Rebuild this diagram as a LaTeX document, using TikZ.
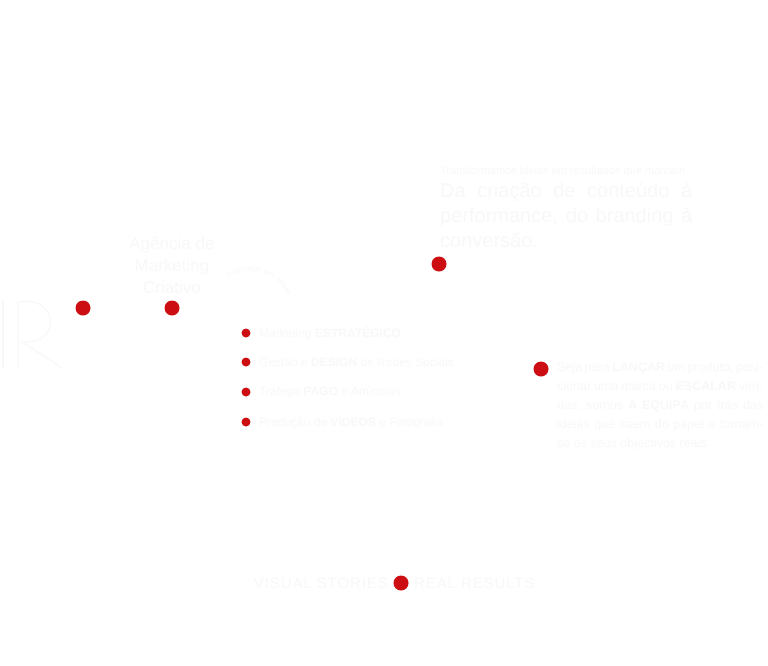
\documentclass[tikz,border=0pt]{standalone}
\usepackage{fontspec}
\setmainfont{Liberation Sans}
\usetikzlibrary{decorations.text}
\definecolor{dotred}{RGB}{204,14,18}
\definecolor{ghost}{RGB}{248,248,248}
\begin{document}
\begin{tikzpicture}[x=1pt,y=-1pt,
  bigdot/.style={circle,fill=dotred,inner sep=0pt,minimum size=15pt},
  smalldot/.style={circle,fill=dotred,inner sep=0pt,minimum size=9pt},
  ghosttext/.style={text=ghost,inner sep=0pt},
  bullettext/.style={ghosttext,anchor=west,font=\fontsize{12}{14}\selectfont}]
\useasboundingbox[fill=white] (0,0) rectangle (768,665);

% logo (faint)
\draw[ghost,line width=1.2pt] (3,300) -- (3,368);
\draw[ghost,line width=1.2pt] (18,368) -- (18,302) .. controls (60,295) and (62,345) .. (22,342) -- (62,368);

% red dots
\node[bigdot] (d1) at (83,308) {};
\node[bigdot] (d2) at (172,308) {};
\node[bigdot] (d3) at (439,264) {};
\node[bigdot] (d4) at (541,369) {};
\node[bigdot] (d5) at (401,583) {};

% title left
\node[ghosttext,align=center,font=\fontsize{17}{22}\selectfont] (title) at (172,265) {Agência de\\Marketing\\Criativo};

% arc text
\begin{scope}[y=1pt]
\path[decorate,decoration={text along path,text color=ghost,
  text={|\fontsize{7}{8}\selectfont|criatividade sem limites}}]
  (250,-312) ++(124:41) arc[start angle=124,end angle=2,radius=41];
\end{scope}

% bullets
\node[smalldot] (b1) at (246,333) {};
\node[smalldot] (b2) at (246,362) {};
\node[smalldot] (b3) at (246,392) {};
\node[smalldot] (b4) at (246,422) {};
\node[bullettext] (t1) at (259,333) {Marketing \textbf{ESTRATÉGICO}};
\node[bullettext] (t2) at (259,362) {Gestão e \textbf{DESIGN} de Redes Sociais};
\node[bullettext] (t3) at (259,392) {Tráfego \textbf{PAGO} e Anúncios};
\node[bullettext] (t4) at (259,422) {Produção de \textbf{VÍDEOS} e Fotografia};

% heading right
\node[ghosttext,anchor=west,font=\fontsize{11}{13}\selectfont] (kick) at (440,172) {Transformamos ideias em resultados que marcam};
\node[ghosttext,anchor=north west,text width=252pt,align=justify,
  font=\fontsize{20}{25}\selectfont] (head) at (440,183)
  {Da criação de conteúdo à\linebreak performance, do branding à\linebreak conversão.};

% paragraph right
\node[ghosttext,anchor=north west,text width=206pt,align=justify,
  font=\fontsize{12.5}{19}\selectfont] (para) at (557,362)
  {Seja para \textbf{LANÇAR} um produto, posicionar uma marca ou \textbf{ESCALAR} vendas, somos \textbf{A EQUIPA} por trás das ideias que saem do papel e tornam-se os seus objectivos reais.};

% bottom tagline
\node[ghosttext,anchor=east,font=\fontsize{15}{18}\selectfont\addfontfeature{LetterSpace=6}] (vs) at (388,583) {VISUAL STORIES};
\node[ghosttext,anchor=west,font=\fontsize{15}{18}\selectfont\addfontfeature{LetterSpace=6}] (rr) at (414,583) {REAL RESULTS};
\end{tikzpicture}
\end{document}
